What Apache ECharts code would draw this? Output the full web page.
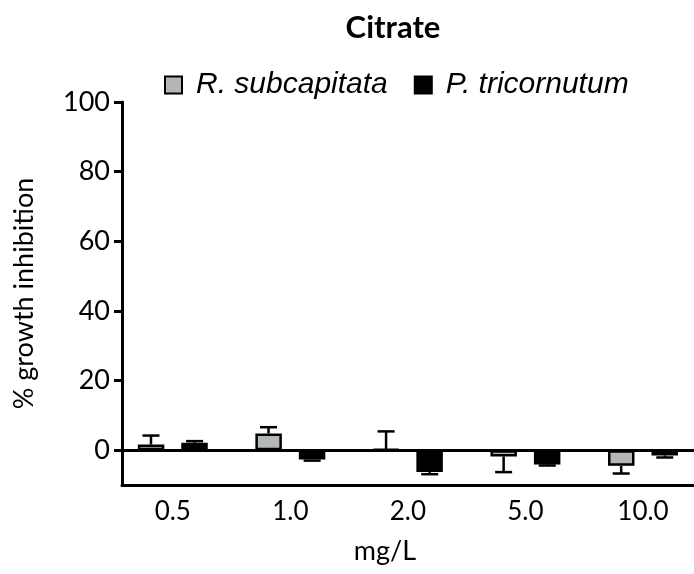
<!DOCTYPE html>
<html>
<head>
<meta charset="utf-8">
<script src="https://cdn.jsdelivr.net/npm/echarts@6/dist/echarts.min.js"></script>
<style>html,body{margin:0;padding:0;background:#fff;}#c{width:694px;height:574px;}</style>
</head>
<body>
<div id="c"></div>
<script>
const categories = ['0.5', '1.0', '2.0', '5.0', '10.0'];
const seriesNames = ['R. subcapitata', 'P. tricornutum'];
const rSub = [1.6, 4.8, 0.3, -1.8, -4.5];
const rSubErr = [2.6, 1.8, 5.1, 4.5, 2.2];
const pTri = [2.1, -2.7, -6.3, -4.1, -1.5];
const pTriErr = [0.5, 0.3, 0.6, 0.3, 0.6];
const yTicks = [0, 20, 40, 60, 80, 100];

const FONT = 'Lato';
const BAR_W = 26.5;
const HALF_OFF = 21.8;

function toPairs(vals) { return vals.map((v, i) => [i, v]); }
function toErr(vals, errs) { return vals.map((v, i) => [i, v, errs[i]]); }

function errRender(offset) {
  return function (params, api) {
    const x = api.value(0), v = api.value(1), e = api.value(2);
    const end = v >= 0 ? v + e : v - e;
    const p0 = api.coord([x, v]);
    const p1 = api.coord([x, end]);
    const cx = p0[0] + offset;
    const st = { stroke: '#000', lineWidth: 2.5 };
    return {
      type: 'group',
      children: [
        { type: 'line', shape: { x1: cx, y1: p0[1], x2: cx, y2: p1[1] }, style: st },
        { type: 'line', shape: { x1: cx - 8.5, y1: p1[1], x2: cx + 8.5, y2: p1[1] }, style: st }
      ]
    };
  };
}

const chart = echarts.init(document.getElementById('c'));
chart.setOption({
  animation: false,
  backgroundColor: '#fff',
  title: [
    { text: 'Citrate', left: 388, top: 7, textAlign: 'center',
      textStyle: { fontFamily: FONT, fontWeight: 'bold', fontSize: 31, color: '#000' } },
    { text: 'mg/L', left: 380, top: 533, textAlign: 'center',
      textStyle: { fontFamily: FONT, fontWeight: 'normal', fontSize: 27, color: '#000' } }
  ],
  legend: {
    left: 159, top: 65,
    icon: 'rect', itemWidth: 17, itemHeight: 17, itemGap: 26,
    data: seriesNames,
    textStyle: { fontFamily: 'Liberation Sans', fontStyle: 'italic', fontSize: 30, color: '#000', padding: [0, 0, 0, 9] }
  },
  grid: { left: 122, right: 0, top: 102, bottom: 89, containLabel: false },
  xAxis: {
    type: 'value',
    min: -0.432, max: 4.434,
    splitLine: { show: false },
    axisLine: { show: true, onZero: false, lineStyle: { color: '#000', width: 3 } },
    axisTick: { show: false },
    axisLabel: {
      customValues: [0, 1, 2, 3, 4],
      formatter: v => categories[Math.round(v)],
      margin: 14, fontFamily: FONT, fontSize: 26, color: '#000'
    }
  },
  yAxis: {
    type: 'value', min: -10, max: 100,
    name: '% growth inhibition', nameLocation: 'middle', nameGap: 84,
    nameTextStyle: { fontFamily: FONT, fontSize: 27, color: '#000' },
    splitLine: { show: false },
    axisLine: { show: true, onZero: false, lineStyle: { color: '#000', width: 3 } },
    axisTick: { show: true, customValues: yTicks, length: 8, lineStyle: { color: '#000', width: 3 } },
    axisLabel: { customValues: yTicks, margin: 12, fontFamily: FONT, fontSize: 27, color: '#000' }
  },
  series: [
    {
      name: seriesNames[0], type: 'bar', data: toPairs(rSub),
      barWidth: BAR_W, barGap: '64%',
      itemStyle: { color: '#b4b7b7', borderColor: '#000', borderWidth: 2.5 },
      markLine: {
        silent: true, symbol: 'none', label: { show: false },
        lineStyle: { color: '#000', width: 3, type: 'solid' },
        data: [{ yAxis: 0 }]
      },
      z: 3
    },
    {
      name: seriesNames[1], type: 'bar', data: toPairs(pTri),
      barWidth: BAR_W, barGap: '64%',
      itemStyle: { color: '#000', borderColor: '#000', borderWidth: 2.5 },
      z: 3
    },
    { type: 'custom', data: toErr(rSub, rSubErr), renderItem: errRender(-HALF_OFF), z: 4, silent: true },
    { type: 'custom', data: toErr(pTri, pTriErr), renderItem: errRender(HALF_OFF), z: 4, silent: true }
  ]
});
</script>
</body>
</html>
